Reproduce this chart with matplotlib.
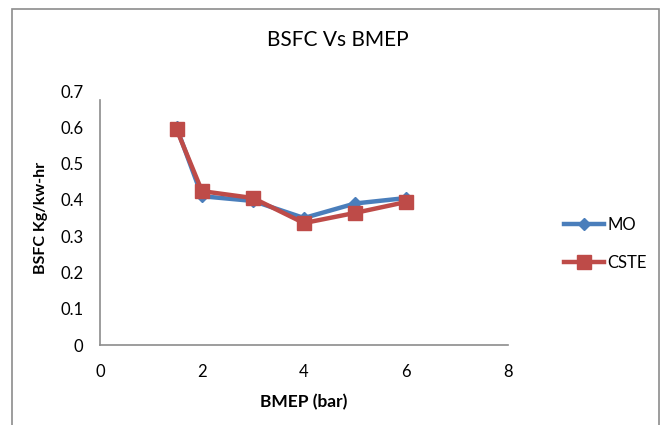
import matplotlib
matplotlib.use("Agg")
import matplotlib.pyplot as plt
from matplotlib.patches import Rectangle

# BSFC against BMEP for the two fuels
bmep = [1.5, 2, 3, 4, 5, 6]
bsfc_mo = [0.60, 0.41, 0.397, 0.35, 0.39, 0.405]
bsfc_cste = [0.595, 0.424, 0.405, 0.336, 0.364, 0.394]

x_ticks = [0, 2, 4, 6, 8]
y_ticks = [0, 0.1, 0.2, 0.3, 0.4, 0.5, 0.6, 0.7]

plt.rcParams['font.family'] = ['Lato', 'DejaVu Sans']

W, H = 668, 425
fig = plt.figure(figsize=(W / 100, H / 100), dpi=100)

# chart frame
fig.patches.append(Rectangle((12 / W, -0.05), (659 - 12) / W, 1.05 - 9 / H,
                             transform=fig.transFigure, fill=False,
                             edgecolor='#8c8c8c', linewidth=1.2))

left, right, top, bottom = 100, 508, 91, 345
ax = fig.add_axes([left / W, 1 - bottom / H, (right - left) / W, (bottom - top) / H])

blue = '#4A7EBB'
red = '#BE4B48'
ax.plot(bmep, bsfc_mo, color=blue, lw=3.2, marker='D', markersize=6,
        markerfacecolor=blue, markeredgecolor=blue, label='MO')
ax.plot(bmep, bsfc_cste, color=red, lw=3.2, marker='s', markersize=10,
        markerfacecolor=red, markeredgecolor=red, label='CSTE')

ax.set_xlim(0, 8)
ax.set_ylim(0, 0.7)
ax.set_xticks(x_ticks)
ax.set_xticklabels([str(v) for v in x_ticks])
ax.set_yticks(y_ticks)
ax.set_yticklabels(['0'] + [f'{v:.1f}' for v in y_ticks[1:]])
ax.tick_params(axis='both', length=0, labelsize=12, colors='#000000')
ax.tick_params(axis='y', pad=12)
ax.tick_params(axis='x', pad=14)

for side in ['top', 'right']:
    ax.spines[side].set_visible(False)
for side in ['left', 'bottom']:
    ax.spines[side].set_color('#8c8c8c')
    ax.spines[side].set_linewidth(1.2)
ax.spines['left'].set_bounds(0, 0.675)

ax.set_xlabel('BMEP (bar)', fontsize=12.5, fontweight='bold', labelpad=10)
ax.set_ylabel('BSFC Kg/kw-hr', fontsize=11.5, fontweight='bold', labelpad=9)

fig.text(338 / W, 1 - 40 / H, 'BSFC Vs BMEP', fontsize=15,
         ha='center', va='center')

leg = ax.legend(loc='center left', bbox_to_anchor=(549 / W, 1 - 244 / H),
                bbox_transform=fig.transFigure, frameon=False, fontsize=12,
                handlelength=2.4, handletextpad=0.2, labelspacing=1.3)

fig.savefig('out.png', dpi=100)
